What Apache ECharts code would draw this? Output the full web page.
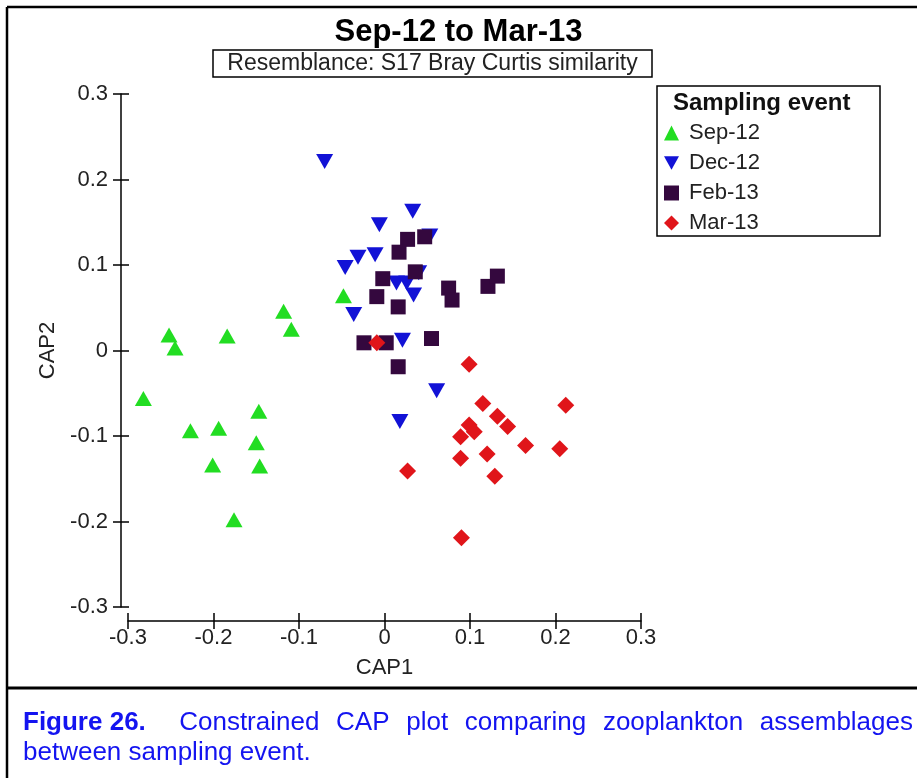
<!DOCTYPE html>
<html>
<head>
<meta charset="utf-8">
<title>Sep-12 to Mar-13</title>
<script src="https://cdn.jsdelivr.net/npm/echarts@6/dist/echarts.min.js"></script>
<style>
  html, body { margin: 0; padding: 0; background: #ffffff; }
  #chart { width: 917px; height: 778px; }
</style>
</head>
<body>
<div id="chart"></div>
<script>
// CAP ordination scores [CAP1, CAP2] for each sampling event
const sep12 = [
  [-0.118, 0.046], [-0.109, 0.025], [-0.252, 0.018], [-0.245, 0.003],
  [-0.184, 0.017], [-0.282, -0.056], [-0.147, -0.071], [-0.227, -0.094],
  [-0.194, -0.091], [-0.150, -0.108], [-0.201, -0.134], [-0.146, -0.135],
  [-0.176, -0.198], [-0.048, 0.064]
];
const dec12 = [
  [-0.070, 0.221], [0.033, 0.163], [-0.006, 0.147], [-0.031, 0.109],
  [-0.011, 0.112], [-0.046, 0.097], [0.053, 0.134], [0.014, 0.079],
  [0.026, 0.079], [0.040, 0.091], [0.034, 0.065], [-0.036, 0.042],
  [0.021, 0.012], [0.061, -0.047], [0.018, -0.083]
];
const feb13 = [
  [0.027, 0.130], [0.047, 0.133], [0.017, 0.115], [0.036, 0.092],
  [-0.002, 0.084], [-0.009, 0.063], [0.016, 0.051], [0.075, 0.073],
  [0.079, 0.059], [0.121, 0.075], [0.132, 0.087], [-0.024, 0.009],
  [0.002, 0.009], [0.055, 0.014], [0.016, -0.019]
];
const mar13 = [
  [-0.009, 0.009], [0.099, -0.016], [0.115, -0.062], [0.212, -0.064],
  [0.132, -0.077], [0.144, -0.089], [0.099, -0.087], [0.105, -0.095],
  [0.089, -0.101], [0.165, -0.111], [0.205, -0.115], [0.089, -0.126],
  [0.120, -0.121], [0.129, -0.147], [0.027, -0.141], [0.090, -0.219]
];

const eventNames = ['Sep-12', 'Dec-12', 'Feb-13', 'Mar-13'];
const axisMin = -0.3;
const axisMax = 0.3;
const axisStep = 0.1;

const FONT = '"Liberation Sans", Arial, Helvetica, sans-serif';
const BLACK = '#000000';
const CAPTION_BLUE = '#1414f0';
const CAPTION_SIZE = 26;

const tickFmt = v => String(+(+v).toFixed(1));

function valueAxis(extra) {
  return Object.assign({
    type: 'value',
    min: axisMin,
    max: axisMax,
    interval: axisStep,
    splitLine: { show: false },
    axisLine: { show: true, onZero: false, lineStyle: { color: BLACK, width: 1.5 } },
    axisTick: { show: true, length: 8, lineStyle: { color: BLACK, width: 1.5 } }
  }, extra);
}

// a second copy of each axis carries the inner half of the crossing ticks
function innerTickAxis(position, offset) {
  return valueAxis({
    position: position,
    offset: offset,
    axisLine: { show: false, onZero: false },
    axisLabel: { show: false },
    axisTick: { show: true, inside: true, length: 8, lineStyle: { color: BLACK, width: 1.5 } }
  });
}

// justified caption line: words spread between two x positions
function justifiedLine(words, x0, x1, y) {
  const ctx = document.createElement('canvas').getContext('2d');
  const widths = words.map(w => {
    ctx.font = (w.bold ? 'bold ' : '') + CAPTION_SIZE + 'px ' + FONT;
    return ctx.measureText(w.text).width;
  });
  const total = widths.reduce((a, b) => a + b, 0);
  const weights = words.slice(1).map(w => w.gapWeight || 1);
  const wsum = weights.reduce((a, b) => a + b, 0);
  const unit = (x1 - x0 - total) / wsum;
  let x = x0;
  return words.map((w, i) => {
    if (i > 0) x += widths[i - 1] + unit * weights[i - 1];
    return {
      type: 'text', x: x, y: y,
      style: {
        text: w.text, fontFamily: FONT, fontSize: CAPTION_SIZE,
        fontWeight: w.bold ? 'bold' : 'normal', fill: CAPTION_BLUE, verticalAlign: 'middle'
      }
    };
  });
}

const chart = echarts.init(document.getElementById('chart'), null, { renderer: 'canvas' });

const downTriangle = 'path://M0,0 L10,0 L5,9 Z';
const seriesStyle = [
  { symbol: 'triangle', size: [17, 15], rotate: 0, color: '#22dd22', icon: 'triangle' },
  { symbol: 'triangle', size: [17, 15], rotate: 180, color: '#1212d6', icon: downTriangle },
  { symbol: 'rect', size: 15, rotate: 0, color: '#34083e', icon: 'rect' },
  { symbol: 'diamond', size: 17, rotate: 0, color: '#e0151a', icon: 'diamond' }
];
const seriesData = [sep12, dec12, feb13, mar13];

const captionLine1 = [
  { text: 'Figure 26.', bold: true },
  { text: 'Constrained', gapWeight: 2 },
  { text: 'CAP' }, { text: 'plot' }, { text: 'comparing' },
  { text: 'zooplankton' }, { text: 'assemblages' }
];

chart.setOption({
  backgroundColor: '#ffffff',
  animation: false,
  textStyle: { fontFamily: FONT },
  title: {
    text: 'Sep-12 to Mar-13',
    left: 'center',
    top: 12,
    textStyle: { fontFamily: FONT, fontSize: 31, fontWeight: 'bold', color: BLACK }
  },
  grid: { left: 128, top: 94, width: 513, height: 513, containLabel: false },
  xAxis: [
    valueAxis({
      position: 'bottom',
      offset: 14,
      name: 'CAP1',
      nameLocation: 'middle',
      nameGap: 36,
      nameTextStyle: { fontFamily: FONT, fontSize: 22, color: '#222222' },
      axisLabel: { margin: 6, fontFamily: FONT, fontSize: 22, color: '#222222', formatter: tickFmt }
    }),
    innerTickAxis('bottom', 14)
  ],
  yAxis: [
    valueAxis({
      position: 'left',
      offset: 7,
      name: 'CAP2',
      nameLocation: 'middle',
      nameGap: 62,
      nameTextStyle: { fontFamily: FONT, fontSize: 22, color: '#222222' },
      axisLabel: { margin: 13, fontFamily: FONT, fontSize: 22, color: '#222222', formatter: tickFmt }
    }),
    innerTickAxis('left', 7)
  ],
  legend: {
    orient: 'vertical',
    left: 664,
    top: 122,
    itemWidth: 15,
    itemHeight: 15,
    itemGap: 8,
    padding: 0,
    data: eventNames.map((name, i) => ({ name: name, icon: seriesStyle[i].icon })),
    textStyle: { fontFamily: FONT, fontSize: 22, color: '#222222', padding: [0, 0, 0, 5] }
  },
  series: eventNames.map((name, i) => ({
    name: name,
    type: 'scatter',
    xAxisIndex: 0,
    yAxisIndex: 0,
    symbol: seriesStyle[i].symbol,
    symbolSize: seriesStyle[i].size,
    symbolRotate: seriesStyle[i].rotate,
    itemStyle: { color: seriesStyle[i].color, opacity: 1 },
    emphasis: { disabled: true },
    data: seriesData[i]
  })),
  graphic: [
    // figure frame and caption separator
    { type: 'line', shape: { x1: 7, y1: 7, x2: 917, y2: 7 }, style: { stroke: BLACK, lineWidth: 2.5 } },
    { type: 'line', shape: { x1: 7, y1: 7, x2: 7, y2: 778 }, style: { stroke: BLACK, lineWidth: 2.5 } },
    { type: 'line', shape: { x1: 7, y1: 688, x2: 917, y2: 688 }, style: { stroke: BLACK, lineWidth: 3 } },
    // resemblance box
    { type: 'rect', shape: { x: 213, y: 50, width: 439, height: 27 }, style: { fill: '#ffffff', stroke: BLACK, lineWidth: 1.5 } },
    {
      type: 'text', x: 432.5, y: 64,
      style: { text: 'Resemblance: S17 Bray Curtis similarity', fontFamily: FONT, fontSize: 23, fill: '#222222', align: 'center', verticalAlign: 'middle' }
    },
    // legend frame and heading
    { type: 'rect', z: -1, shape: { x: 657, y: 86, width: 223, height: 150 }, style: { fill: '#ffffff', stroke: BLACK, lineWidth: 1.5 } },
    {
      type: 'text', x: 673, y: 103,
      style: { text: 'Sampling event', fontFamily: FONT, fontSize: 24, fontWeight: 'bold', fill: '#111111', verticalAlign: 'middle' }
    },
    // caption
    ...justifiedLine(captionLine1, 23, 913, 723),
    { type: 'text', x: 23, y: 753, style: { text: 'between sampling event.', fontFamily: FONT, fontSize: CAPTION_SIZE, fill: CAPTION_BLUE, verticalAlign: 'middle' } }
  ]
});
</script>
</body>
</html>
